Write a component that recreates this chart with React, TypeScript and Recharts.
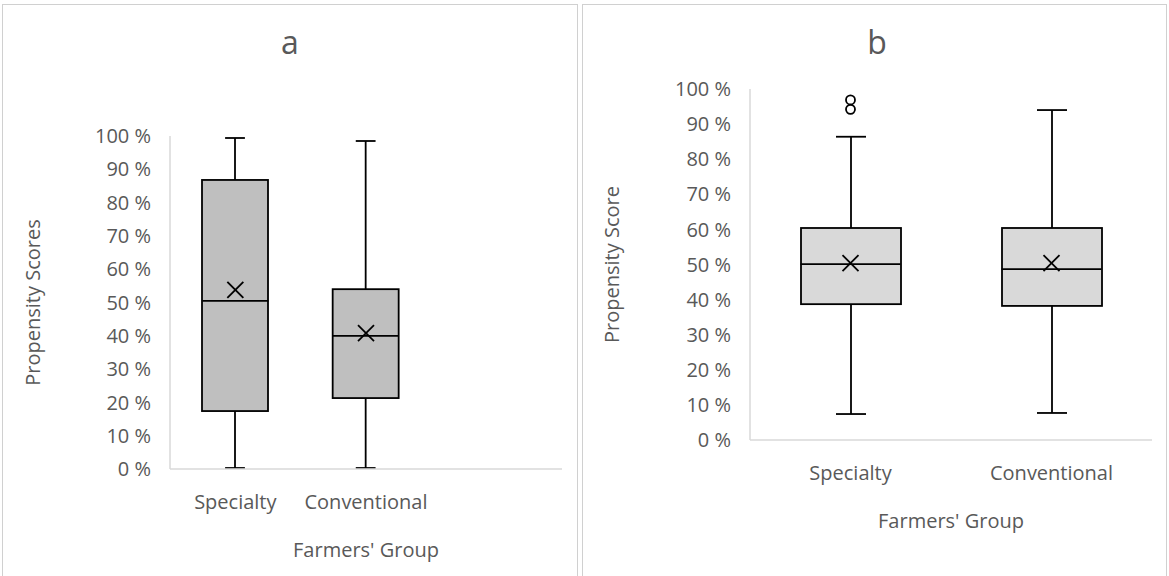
import React from "react"
import { ComposedChart, Bar, Scatter, XAxis, YAxis, Label } from "recharts"

// panel a
const groupsA = ["Specialty", "Conventional", ""]
const minA = [0.3, 0.3, null]
const q1A = [17.4, 21.3, null]
const medianA = [50.5, 40, null]
const q3A = [86.8, 54, null]
const maxA = [99.4, 98.5, null]
const meanA = [53.8, 40.8, null]

// panel b
const groupsB = ["Specialty", "Conventional"]
const minB = [7.4, 7.7]
const q1B = [38.7, 38.2]
const medianB = [50.1, 48.7]
const q3B = [60.4, 60.4]
const maxB = [86.4, 94]
const meanB = [50.4, 50.4]
const outlier1B = [96.9, null]
const outlier2B = [94.2, null]

const yTicks = [0, 10, 20, 30, 40, 50, 60, 70, 80, 90, 100]

const FONT = "'Open Sans', sans-serif"
const GREY = "#595959"
const LIGHT = "#d9d9d9"
const SW = 1.8

function buildData(groups, mins, q1s, meds, q3s, maxs, means, out1 = [], out2 = []) {
  return groups.map((name, i) => ({
    name,
    whisker: mins[i] == null ? null : [mins[i], maxs[i]],
    box: q1s[i] == null ? null : [q1s[i], q3s[i]],
    median: meds[i],
    mean: means[i],
    out1: out1[i] ?? null,
    out2: out2[i] ?? null,
  }))
}

const dataA = buildData(groupsA, minA, q1A, medianA, q3A, maxA, meanA)
const dataB = buildData(groupsB, minB, q1B, medianB, q3B, maxB, meanB, outlier1B, outlier2B)

const WhiskerShape = (props: any) => {
  const { x, y, width, height } = props
  if (height == null || isNaN(height)) return <g />
  const cx = x + width / 2
  const cap = width * 0.15
  return (
    <g stroke="#000" strokeWidth={SW}>
      <line x1={cx} y1={y} x2={cx} y2={y + height} />
      <line x1={cx - cap} y1={y} x2={cx + cap} y2={y} />
      <line x1={cx - cap} y1={y + height} x2={cx + cap} y2={y + height} />
    </g>
  )
}

const makeBoxShape = (fill: string) => (props: any) => {
  const { x, y, width, height } = props
  if (height == null || isNaN(height)) return <g />
  return <rect x={x} y={y} width={width} height={height} fill={fill} stroke="#000" strokeWidth={SW} />
}

const makeMedianShape = (w: number) => (props: any) => {
  const { cx, cy } = props
  if (cy == null || isNaN(cy)) return <g />
  return <line x1={cx - w / 2} y1={cy} x2={cx + w / 2} y2={cy} stroke="#000" strokeWidth={SW} />
}

const MeanShape = (props: any) => {
  const { cx, cy } = props
  if (cy == null || isNaN(cy)) return <g />
  const s = 8
  return (
    <g stroke="#000" strokeWidth={SW}>
      <line x1={cx - s} y1={cy - s} x2={cx + s} y2={cy + s} />
      <line x1={cx - s} y1={cy + s} x2={cx + s} y2={cy - s} />
    </g>
  )
}

const OutlierShape = (props: any) => {
  const { cx, cy } = props
  if (cy == null || isNaN(cy)) return <g />
  return <circle cx={cx} cy={cy} r={4.5} fill="none" stroke="#000" strokeWidth={SW} />
}

function BoxPanel({ data, width, height, top, right, xHeight, barSize, fill, yLabel, xLabelOffset, yLabelOffset }: any) {
  return (
    <ComposedChart width={width} height={height} data={data} margin={{ top, right, bottom: 0, left: 0 }} barGap={-barSize}>
      <XAxis
        dataKey="name"
        height={xHeight}
        axisLine={{ stroke: LIGHT, strokeWidth: 1.5 }}
        tickLine={false}
        tickMargin={20}
        tick={{ fill: GREY, fontSize: 20, fontFamily: FONT }}
        interval={0}
      >
        <Label value="Farmers' Group" position="insideBottom" offset={xLabelOffset} fill={GREY} fontSize={20} fontFamily={FONT} />
      </XAxis>
      <YAxis
        width={170}
        domain={[0, 100]}
        ticks={yTicks}
        tickFormatter={(v) => `${v} %`}
        axisLine={{ stroke: LIGHT, strokeWidth: 1.5 }}
        tickLine={false}
        tickMargin={13}
        tick={{ fill: GREY, fontSize: 20, fontFamily: FONT }}
      >
        <Label
          value={yLabel}
          angle={-90}
          position="insideLeft"
          offset={yLabelOffset}
          fill={GREY}
          fontSize={20}
          fontFamily={FONT}
          style={{ textAnchor: "middle" }}
        />
      </YAxis>
      <Bar dataKey="whisker" barSize={barSize} shape={WhiskerShape} isAnimationActive={false} />
      <Bar dataKey="box" barSize={barSize} shape={makeBoxShape(fill)} isAnimationActive={false} />
      <Scatter dataKey="median" shape={makeMedianShape(barSize)} isAnimationActive={false} />
      <Scatter dataKey="mean" shape={MeanShape} isAnimationActive={false} />
      <Scatter dataKey="out1" shape={OutlierShape} isAnimationActive={false} />
      <Scatter dataKey="out2" shape={OutlierShape} isAnimationActive={false} />
    </ComposedChart>
  )
}

const titleStyle: React.CSSProperties = {
  position: "absolute",
  top: 26,
  width: 60,
  textAlign: "center",
  fontFamily: FONT,
  fontSize: 32,
  lineHeight: "32px",
  color: GREY,
}

export default function App() {
  return (
    <div style={{ position: "absolute", left: 0, top: 0, width: 1169, height: 576, overflow: "hidden", background: "#fff" }}>
      <div style={{ position: "absolute", left: 2, top: 4, width: 576, height: 590, border: "1.5px solid #d0d0d0", boxSizing: "border-box" }} />
      <div style={{ position: "absolute", left: 582, top: 4, width: 585, height: 590, border: "1.5px solid #d0d0d0", boxSizing: "border-box" }} />
      <div style={{ position: "absolute", left: 0, top: 0 }}>
        <BoxPanel
          data={dataA}
          width={578}
          height={576}
          top={136}
          right={16}
          xHeight={107}
          barSize={66}
          fill="#bfbfbf"
          yLabel="Propensity Scores"
          xLabelOffset={19}
          yLabelOffset={33}
        />
      </div>
      <div style={{ position: "absolute", left: 580, top: 0 }}>
        <BoxPanel
          data={dataB}
          width={589}
          height={576}
          top={89}
          right={17}
          xHeight={136}
          barSize={100}
          fill="#d9d9d9"
          yLabel="Propensity Score"
          xLabelOffset={48}
          yLabelOffset={32}
        />
      </div>
      <div style={{ ...titleStyle, left: 260 }}>a</div>
      <div style={{ ...titleStyle, left: 847 }}>b</div>
    </div>
  )
}
